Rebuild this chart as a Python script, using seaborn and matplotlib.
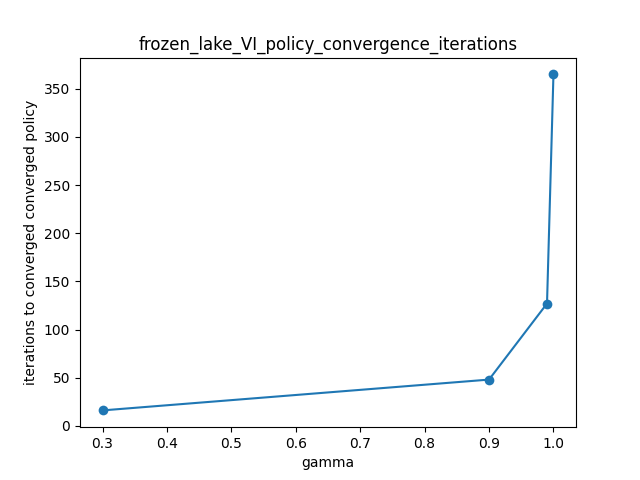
import matplotlib
matplotlib.use('Agg')
import matplotlib.pyplot as plt
import seaborn as sns
import pandas as pd

# gamma values and iterations until the policy stopped changing
gammas = [0.3, 0.9, 0.99, 1.0]
iterations = [16, 48, 127, 365]

df = pd.DataFrame({'gamma': gammas, 'iterations': iterations})

fig, ax = plt.subplots(figsize=(6.4, 4.8), dpi=100)
sns.lineplot(data=df, x='gamma', y='iterations', marker='o', markersize=7,
             markeredgewidth=0, color='#1f77b4', ax=ax)
ax.set_title('frozen_lake_VI_policy_convergence_iterations')
ax.set_xlabel('gamma')
ax.set_ylabel('iterations to converged converged policy')
plt.savefig('out.png')
plt.close()
